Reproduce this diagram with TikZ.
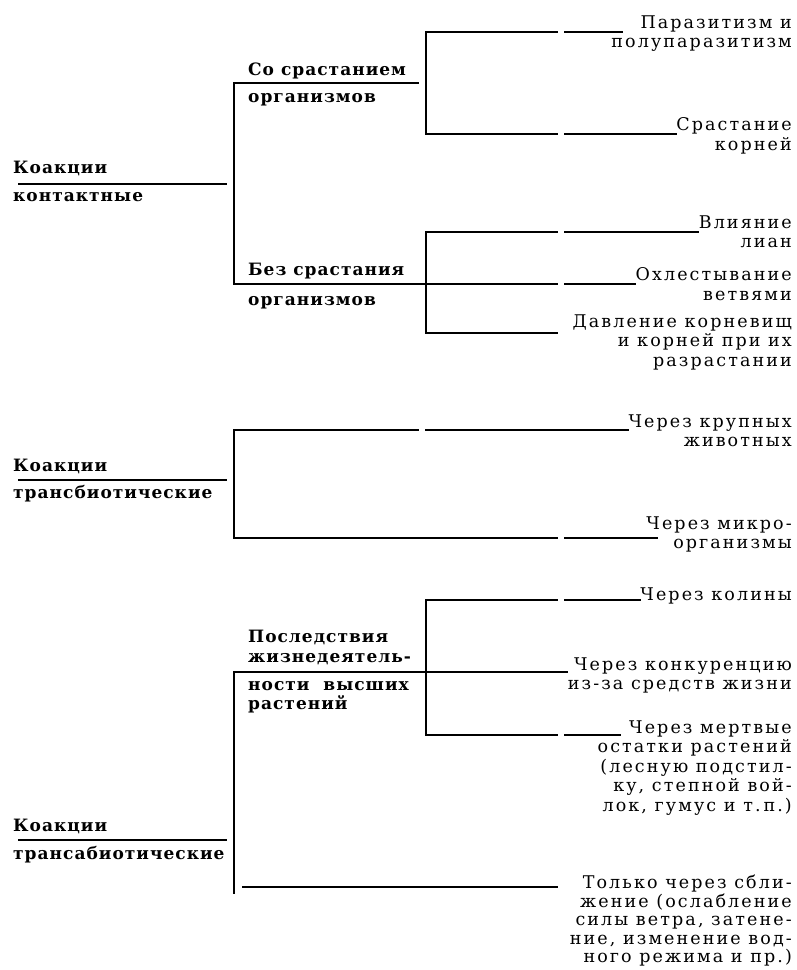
\documentclass[tikz,border=0pt]{standalone}
\usepackage{fontspec}
\newfontfamily\headfont[LetterSpace=6]{DejaVu Serif}
\newfontfamily\leaffont[LetterSpace=12]{DejaVu Serif}

\begin{document}
\begin{tikzpicture}[
    x=1pt, y=-1pt,
    head/.style={font=\headfont\bfseries\fontsize{17}{19.5}\selectfont, align=left, inner sep=0pt,
        anchor=north west, yshift=13.65pt, execute at begin node=\strut},
    leaf/.style={font=\leaffont\fontsize{17.5}{19.5}\selectfont, align=right, inner sep=0pt,
        anchor=north east, yshift=13.65pt, execute at begin node=\strut},
    rule/.style={line width=1.4pt, line cap=rect},
    gapline/.style={rule, dash pattern=on #1 off 8pt on 900pt}
]
\useasboundingbox (0,0) rectangle (796,970);

% contact coactions
\node[head] (kont) at (13,175) {Коакции\\[8.5pt]контактные};
\node[head] (sras-org) at (248,76) {Со срастанием\\[7.5pt]организмов};
\node[head] (bez-org) at (248,277) {Без срастания\\[10.5pt]организмов};
\node[leaf] (parazit) at (792,29) {Паразитизм и\\полупаразитизм};
\node[leaf] (srast) at (792,131) {Срастание\\корней};
\node[leaf] (liany) at (792,229) {Влияние\\лиан};
\node[leaf] (ohlest) at (792,281) {Охлестывание\\ветвями};
\node[leaf] (davl) at (792,328) {Давление корневищ\\и корней при их\\разрастании};

\coordinate (b1t) at (234,83);
\coordinate (b1b) at (234,284);
\coordinate (sras-e) at (418,83);
\coordinate (s1t) at (426,32);
\coordinate (s1b) at (426,134);
\coordinate (parazit-e) at (622,32);
\coordinate (s2t) at (426,232);
\coordinate (s2b) at (426,333);
\coordinate (davl-e) at (557,333);

\draw[rule] ([shift={(6,22.65)}]kont.north west) -- ++(207,0);
\draw[rule] (b1t) -- (b1b);
\draw[rule] (b1t) -- (sras-e);
\draw[rule] (s1t) -- (s1b);
\draw[gapline=131pt] (s1t) -- (parazit-e);
\draw[gapline=131pt] (s1b) -- (s1b -| srast.west);
\draw[rule] (s2t) -- (s2b);
\draw[gapline=131pt] (s2t) -- (s2t -| liany.west);
\draw[gapline=323pt] (b1b) -- (b1b -| ohlest.west);
\draw[rule] (s2b) -- (davl-e);

% transbiotic coactions
\node[head] (transb) at (13,473) {Коакции\\[7.5pt]трансбиотические};
\node[leaf] (zhivot) at (792,428) {Через крупных\\животных};
\node[leaf] (mikro) at (792,530) {Через микро-\\организмы};

\coordinate (b2t) at (234,430);
\coordinate (b2b) at (234,538);
\coordinate (mikro-e) at (657,538);

\draw[rule] ([shift={(6,20.65)}]transb.north west) -- ++(207,0);
\draw[rule] (b2t) -- (b2b);
\draw[gapline=184pt] (b2t) -- (b2t -| zhivot.west);
\draw[gapline=323pt] (b2b) -- (mikro-e);

% transabiotic coactions
\node[head] (transab) at (13,833) {Коакции\\[8.5pt]трансабиотические};
\node[head] (posled) at (248,644) {Последствия\\жизнедеятель-\\[8.5pt]ности\ \ высших\\растений};
\node[leaf] (kolin) at (792,600) {Через колины};
\node[leaf] (konkur) at (792,671) {Через конкуренцию\\из-за средств жизни};
\node[leaf] (mertv) at (792,734) {Через мертвые\\остатки растений\\(лесную подстил-\\ку, степной вой-\\лок, гумус и т.\,п.)};
\node[leaf, font=\leaffont\fontsize{17.5}{18.5}\selectfont, yshift=-0.7pt] (sblizh) at (792,888)
    {Только через сбли-\\жение (ослабление\\силы ветра, затене-\\ние, изменение вод-\\ного режима и пр.)};

\coordinate (b3t) at (234,672);
\coordinate (b3b) at (234,893);
\coordinate (s3t) at (426,600);
\coordinate (s3b) at (426,735);
\coordinate (mertv-e) at (620,735);
\coordinate (sblizh-s) at (234,887);
\coordinate (sblizh-e) at (557,887);

\draw[rule] ([shift={(6,20.65)}]transab.north west) -- ++(207,0);
\draw[rule] (b3t) -- (b3b);
\draw[rule] (b3t) -- (b3t -| konkur.west);
\draw[rule] (s3t) -- (s3b);
\draw[gapline=131pt] (s3t) -- (s3t -| kolin.west);
\draw[gapline=131pt] (s3b) -- (mertv-e);
\draw[rule, shorten <=9pt] (sblizh-s) -- (sblizh-e);
\end{tikzpicture}
\end{document}
